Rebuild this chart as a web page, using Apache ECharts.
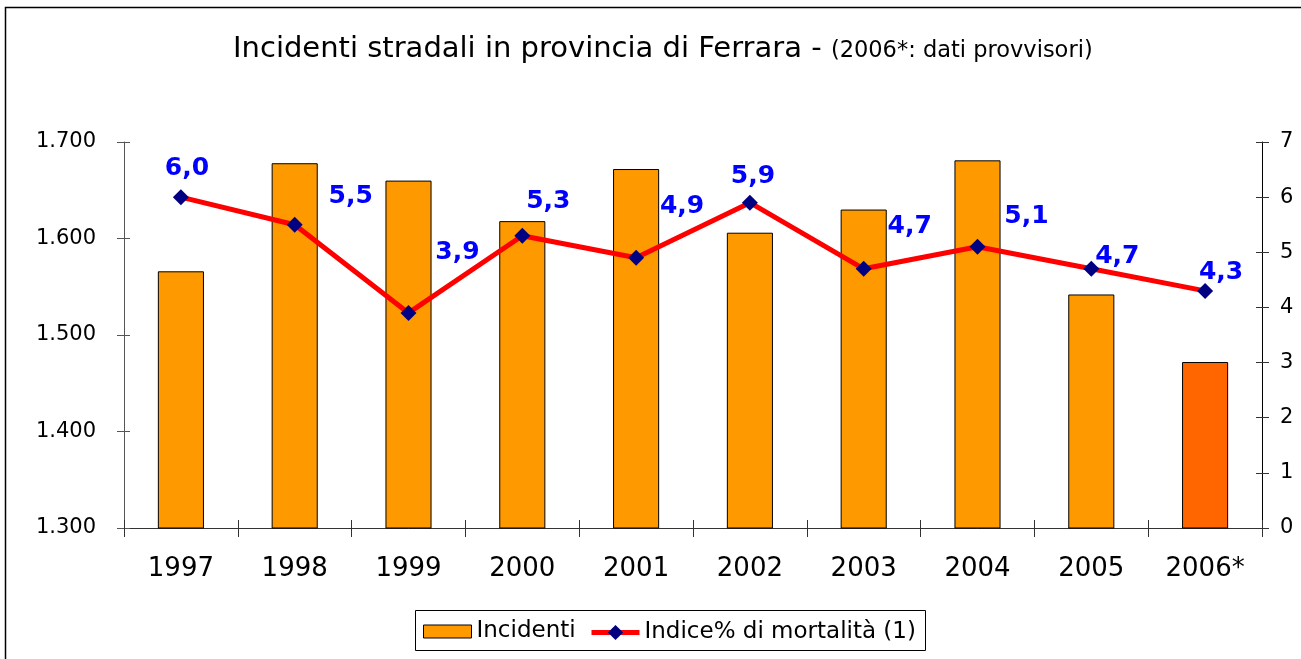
<!DOCTYPE html>
<html>
<head>
<meta charset="utf-8">
<script src="https://cdn.jsdelivr.net/npm/echarts@6/dist/echarts.min.js"></script>
<style>
html,body{margin:0;padding:0;background:#fff;}
#chart{width:1301px;height:659px;}
</style>
</head>
<body>
<div id="chart"></div>
<script>
// ---- data ----
var categories = ['1997','1998','1999','2000','2001','2002','2003','2004','2005','2006*'];
var incidenti = [1566, 1678, 1660, 1618, 1672, 1606, 1630, 1681, 1542, 1472];
var mortalita = [6.0, 5.5, 3.9, 5.3, 4.9, 5.9, 4.7, 5.1, 4.7, 4.3];
var leftTicks = [1300, 1400, 1500, 1600, 1700];
var rightTicks = [0, 1, 2, 3, 4, 5, 6, 7];

// ---- layout (label offsets relative to each point) ----
var labelOffsets = [[6,-29],[56,-28],[49,-60],[26,-34],[46,-51],[3,-26],[46,-42],[49,-30],[26,-12],[16,-18]];

var FONT = 'DejaVu Sans';
var chart = echarts.init(document.getElementById('chart'));

var barData = incidenti.map(function (v, i) {
  return {
    value: v,
    itemStyle: { color: i === incidenti.length - 1 ? '#FF6600' : '#FF9900' }
  };
});
var lineData = mortalita.map(function (v, i) {
  return {
    value: v,
    label: { offset: labelOffsets[i] }
  };
});

function fmtThousands(v) {
  return String(v).replace(/\B(?=(\d{3})+(?!\d))/g, '.');
}

var legendText = { fontFamily: FONT, fontSize: 23, color: '#000' };

var option = {
  backgroundColor: '#fff',
  animation: false,
  textStyle: { fontFamily: FONT },
  title: {
    left: 233,
    top: 35,
    padding: 0,
    text: '{a|Incidenti stradali in provincia di Ferrara - }{b|(2006*: dati provvisori)}',
    textStyle: {
      fontWeight: 'normal',
      rich: {
        a: { fontFamily: FONT, fontSize: 29, fontWeight: 'normal', color: '#000', verticalAlign: 'bottom' },
        b: { fontFamily: FONT, fontSize: 22.5, fontWeight: 'normal', color: '#000', verticalAlign: 'bottom', padding: [0,0,1,0] }
      }
    }
  },
  graphic: [{
    type: 'rect',
    shape: { x: 5.5, y: 7.5, width: 1400, height: 800 },
    style: { fill: 'none', stroke: '#000', lineWidth: 1.5 },
    silent: true,
    z: 100
  }, {
    type: 'rect',
    shape: { x: 415.5, y: 610.5, width: 510, height: 40 },
    style: { fill: 'none', stroke: '#000', lineWidth: 1 },
    silent: true,
    z: 100
  }],
  legend: [{
    left: 423,
    top: 620,
    padding: 0,
    itemWidth: 48,
    itemHeight: 13,
    textStyle: legendText,
    data: [
      { name: 'Incidenti', icon: 'rect', itemStyle: { color: '#FF9900', borderColor: '#000', borderWidth: 1 } }
    ]
  }, {
    left: 589,
    top: 621,
    padding: 0,
    itemWidth: 48,
    itemHeight: 19,
    textStyle: legendText,
    data: [
      { name: 'Indice% di mortalità (1)', lineStyle: { width: 5, color: '#FF0000' }, itemStyle: { color: '#000080' } }
    ]
  }],
  grid: { left: 124, right: 39, top: 142, bottom: 131, containLabel: false },
  xAxis: [{
    type: 'category',
    data: categories,
    position: 'bottom',
    axisLine: { lineStyle: { color: '#333', width: 1 } },
    axisTick: { show: true, inside: false, length: 9, lineStyle: { color: '#333' } },
    axisLabel: { fontFamily: FONT, fontSize: 26, color: '#000', margin: 28 },
    splitLine: { show: false }
  }, {
    type: 'category',
    data: categories,
    position: 'bottom',
    axisLine: { show: false },
    axisTick: { show: true, inside: true, length: 8, lineStyle: { color: '#333' } },
    axisLabel: { show: false },
    splitLine: { show: false }
  }],
  yAxis: [{
    type: 'value',
    position: 'left',
    min: 1300, max: 1700, interval: 100,
    axisLine: { show: true, lineStyle: { color: '#555', width: 1 } },
    axisTick: { show: true, inside: false, length: 7, lineStyle: { color: '#555' } },
    axisLabel: { fontFamily: FONT, fontSize: 21, color: '#000', margin: 28,
      formatter: function (v) { return leftTicks.indexOf(v) >= 0 ? fmtThousands(v) : ''; } },
    splitLine: { show: false }
  }, {
    type: 'value',
    position: 'right',
    min: 0, max: 7, interval: 1,
    axisLine: { show: true, lineStyle: { color: '#000', width: 1 } },
    axisTick: { show: true, inside: false, length: 7, lineStyle: { color: '#333' } },
    axisLabel: { fontFamily: FONT, fontSize: 21, color: '#000', margin: 18,
      formatter: function (v) { return rightTicks.indexOf(v) >= 0 ? String(v) : ''; } },
    splitLine: { show: false }
  }, {
    type: 'value',
    position: 'left',
    min: 1300, max: 1700, interval: 100,
    axisLine: { show: false },
    axisTick: { show: true, inside: true, length: 6, lineStyle: { color: '#555' } },
    axisLabel: { show: false },
    splitLine: { show: false }
  }, {
    type: 'value',
    position: 'right',
    min: 0, max: 7, interval: 1,
    axisLine: { show: false },
    axisTick: { show: true, inside: true, length: 6, lineStyle: { color: '#333' } },
    axisLabel: { show: false },
    splitLine: { show: false }
  }],
  series: [{
    name: 'Incidenti',
    type: 'bar',
    xAxisIndex: 0,
    yAxisIndex: 0,
    barWidth: '40.5%',
    data: barData,
    itemStyle: { borderColor: '#000', borderWidth: 1 },
    z: 2
  }, {
    name: 'Indice% di mortalità (1)',
    type: 'line',
    xAxisIndex: 0,
    yAxisIndex: 1,
    data: lineData,
    symbol: 'diamond',
    symbolSize: 16,
    color: '#FF0000',
    lineStyle: { color: '#FF0000', width: 5 },
    itemStyle: { color: '#000080', borderWidth: 0 },
    label: {
      show: true,
      position: 'inside',
      fontFamily: FONT,
      fontWeight: 'bold',
      fontSize: 25,
      color: '#0000FF',
      formatter: function (p) { return p.value.toFixed(1).replace('.', ','); }
    },
    z: 3
  }]
};
chart.setOption(option);
</script>
</body>
</html>
